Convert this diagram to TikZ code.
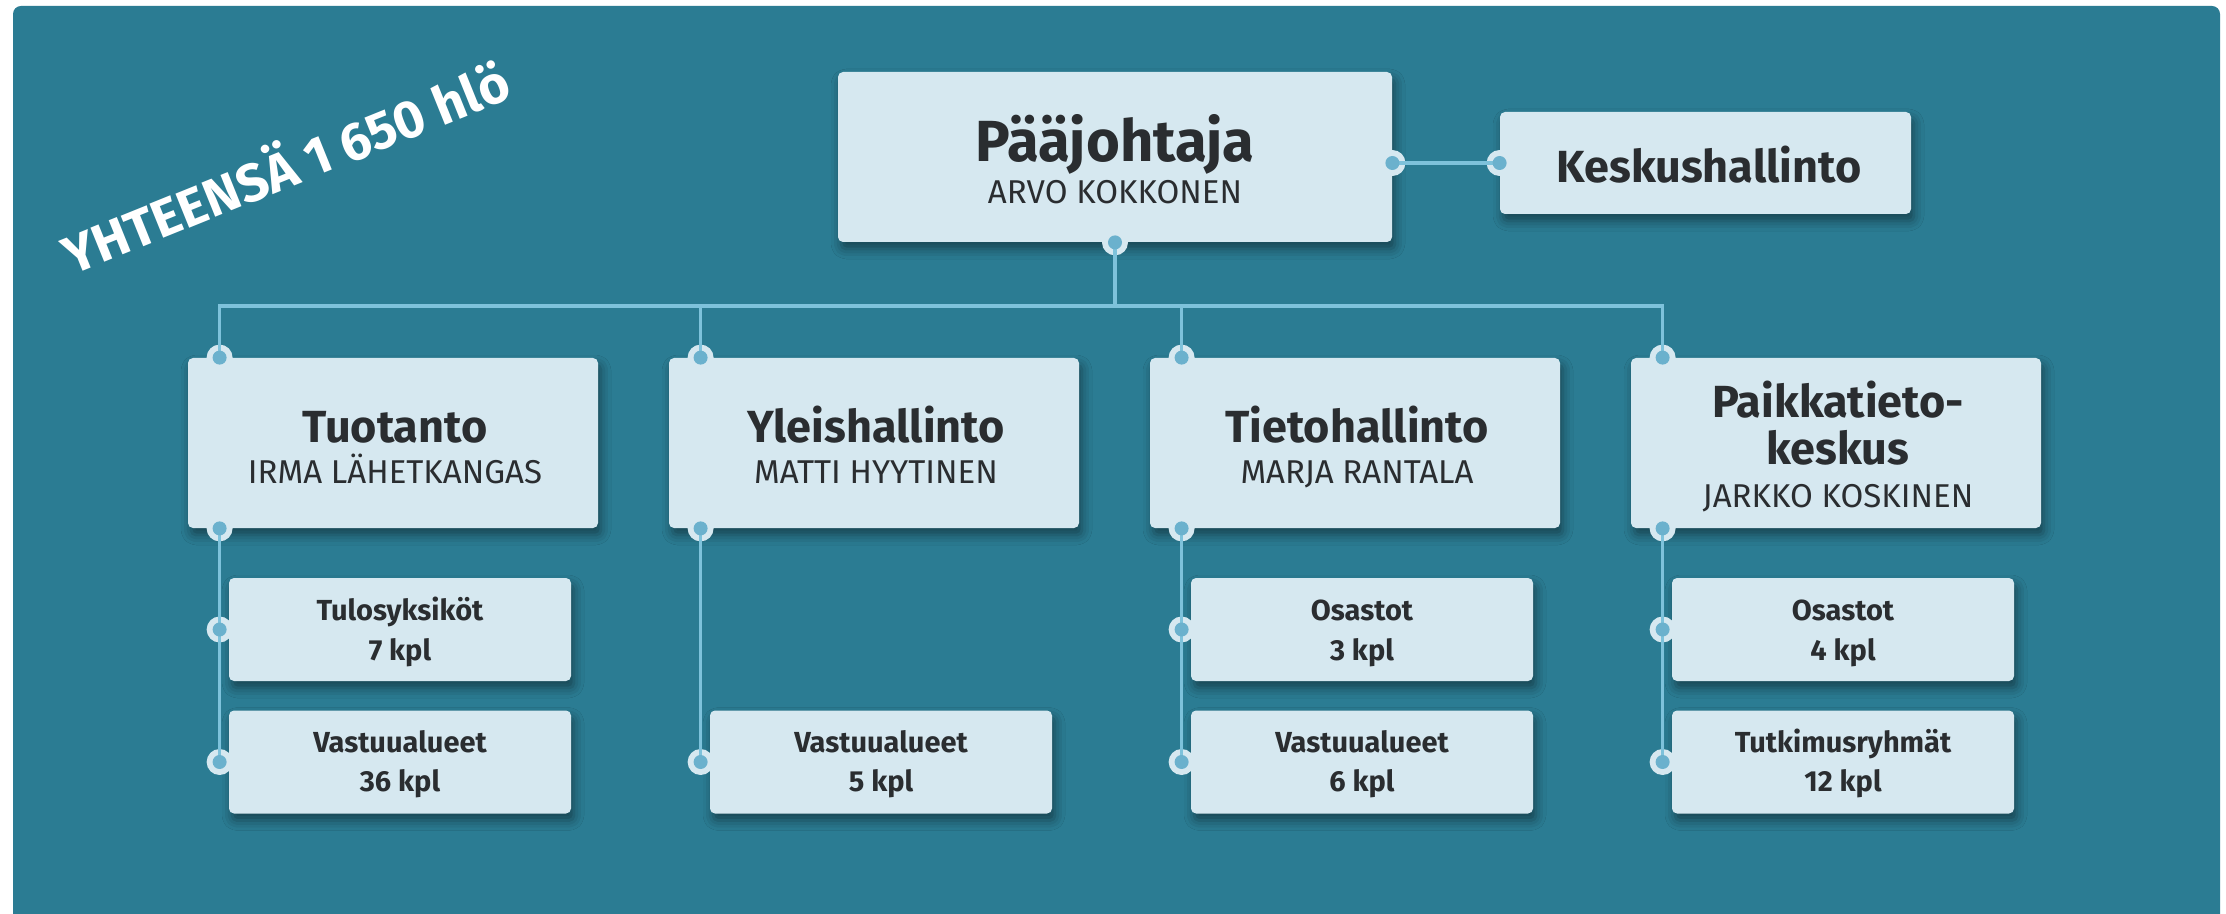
\documentclass[tikz,border=0pt]{standalone}
\usepackage{fontspec}
\setmainfont{Fira Sans}
\usetikzlibrary{shadows.blur,calc}
\definecolor{bgc}{HTML}{2B7C93}
\definecolor{boxc}{HTML}{D6E8F0}
\definecolor{linec}{HTML}{7EC2DB}
\definecolor{dotc}{HTML}{6BB1CD}
\definecolor{txtc}{HTML}{2A2D30}
\newcommand{\fsTop}{\fontsize{29}{32}\selectfont\bfseries}
\newcommand{\fsMid}{\fontsize{22.5}{26}\selectfont\bfseries}
\newcommand{\fsName}{\fontsize{16.5}{19}\selectfont}
\newcommand{\fsSub}{\fontsize{14.5}{17}\selectfont\bfseries}
\tikzset{
  card/.style={fill=boxc, rounded corners=2.5pt, inner sep=0pt,
    blur shadow={shadow xshift=1.5pt, shadow yshift=-3.5pt, shadow blur radius=5pt, shadow opacity=45}},
  topbox/.style={card, minimum width=277pt, minimum height=85pt},
  sidebox/.style={card, minimum width=205.5pt, minimum height=51pt},
  unitbox/.style={card, minimum width=205pt, minimum height=85pt},
  subbox/.style={card, minimum width=171pt, minimum height=51.5pt},
  txt/.style={anchor=base, inner sep=0pt, text=txtc},
  halo/.style={circle, fill=boxc, minimum size=13pt, inner sep=0pt},
  dotmark/.style={circle, fill=dotc, minimum size=7pt, inner sep=0pt},
  conn/.style={draw=linec, line width=1.8pt},
}
\begin{document}
\begin{tikzpicture}[x=0.5pt,y=-0.5pt]
\useasboundingbox (0,0) rectangle (2226,914);
\fill[white] (0,0) rectangle (2226,914);
\fill[bgc, rounded corners=4pt] (13,6) rectangle (2220,960);
% total
\node[rotate=22, inner sep=0pt, text=white, font=\fontsize{26.5}{30}\selectfont\bfseries] (total) at (284,164) {YHTEENSÄ 1 650 hlö};
% boxes
\node[topbox] (pj) at (1115,157) {};
\node[sidebox] (ks) at (1705.5,163) {};
\foreach \n/\x in {tu/393, yl/874, ti/1355, pa/1836} \node[unitbox] (\n) at (\x,443) {};
\foreach \n/\x in {tu/400, ti/1362, pa/1843} \node[subbox] (\n-a) at (\x,629.5) {};
\foreach \n/\x in {tu/400, yl/881, ti/1362, pa/1843} \node[subbox] (\n-b) at (\x,762) {};
% texts
\node[txt, font=\fsTop] (pj-t1) at (1115,162) {Pääjohtaja};
\node[txt, font=\fsName] (pj-t2) at (1115,204) {ARVO KOKKONEN};
\node[txt, font=\fsMid] (ks-t1) at (1709,183) {Keskushallinto};
\node[txt, font=\fsMid] (tu-t1) at (395,442) {Tuotanto};
\node[txt, font=\fsName] (tu-t2) at (395,483) {IRMA LÄHETKANGAS};
\node[txt, font=\fsMid] (yl-t1) at (876,442) {Yleishallinto};
\node[txt, font=\fsName] (yl-t2) at (876,483) {MATTI HYYTINEN};
\node[txt, font=\fsMid] (ti-t1) at (1357,442) {Tietohallinto};
\node[txt, font=\fsName] (ti-t2) at (1357,483) {MARJA RANTALA};
\node[txt, font=\fsMid] (pa-t1) at (1838,417) {Paikkatieto-};
\node[txt, font=\fsMid] (pa-t2) at (1838,464) {keskus};
\node[txt, font=\fsName] (pa-t3) at (1838,507) {JARKKO KOSKINEN};
\node[txt, font=\fsSub] (tu-a1) at (400,620) {Tulosyksiköt};
\node[txt, font=\fsSub] (tu-a2) at (400,660) {7 kpl};
\node[txt, font=\fsSub] (tu-b1) at (400,752) {Vastuualueet};
\node[txt, font=\fsSub] (tu-b2) at (400,791) {36 kpl};
\node[txt, font=\fsSub] (yl-b1) at (881,752) {Vastuualueet};
\node[txt, font=\fsSub] (yl-b2) at (881,791) {5 kpl};
\node[txt, font=\fsSub] (ti-a1) at (1362,620) {Osastot};
\node[txt, font=\fsSub] (ti-a2) at (1362,660) {3 kpl};
\node[txt, font=\fsSub] (ti-b1) at (1362,752) {Vastuualueet};
\node[txt, font=\fsSub] (ti-b2) at (1362,791) {6 kpl};
\node[txt, font=\fsSub] (pa-a1) at (1843,620) {Osastot};
\node[txt, font=\fsSub] (pa-a2) at (1843,660) {4 kpl};
\node[txt, font=\fsSub] (pa-b1) at (1843,752) {Tutkimusryhmät};
\node[txt, font=\fsSub] (pa-b2) at (1843,791) {12 kpl};
% halos (sockets)
\node[halo] (pj-r) at (pj.east |- ks.west) {};
\node[halo] (ks-l) at (ks.west) {};
\node[halo] (pj-b) at (pj.south) {};
\foreach \n in {tu,yl,ti,pa}{
  \node[halo] (\n-t) at ($(\n.north west)+(32,0)$) {};
  \node[halo] (\n-d) at ($(\n.south west)+(32,0)$) {};
}
\foreach \n in {tu,ti,pa} \node[halo] (\n-ad) at (\n-d |- \n-a.west) {};
\foreach \n in {tu,yl,ti,pa} \node[halo] (\n-bd) at (\n-d |- \n-b.west) {};
% connectors
\coordinate (bus) at (0,306);
\draw[conn] (pj-r.center) -- (ks-l.center);
\draw[conn] (pj-b.center) -- (pj-b.center |- bus);
\draw[conn] (tu-t.center) -- (tu-t.center |- bus) -- (pa-t.center |- bus) -- (pa-t.center);
\draw[conn] (yl-t.center) -- (yl-t.center |- bus);
\draw[conn] (ti-t.center) -- (ti-t.center |- bus);
\foreach \n in {tu,yl,ti,pa} \draw[conn] (\n-d.center) -- (\n-bd.center);
% dots
\foreach \d in {pj-r,ks-l,pj-b,tu-t,yl-t,ti-t,pa-t,tu-d,yl-d,ti-d,pa-d,tu-ad,ti-ad,pa-ad,tu-bd,yl-bd,ti-bd,pa-bd}
  \node[dotmark] (\d-m) at (\d.center) {};
\end{tikzpicture}
\end{document}
